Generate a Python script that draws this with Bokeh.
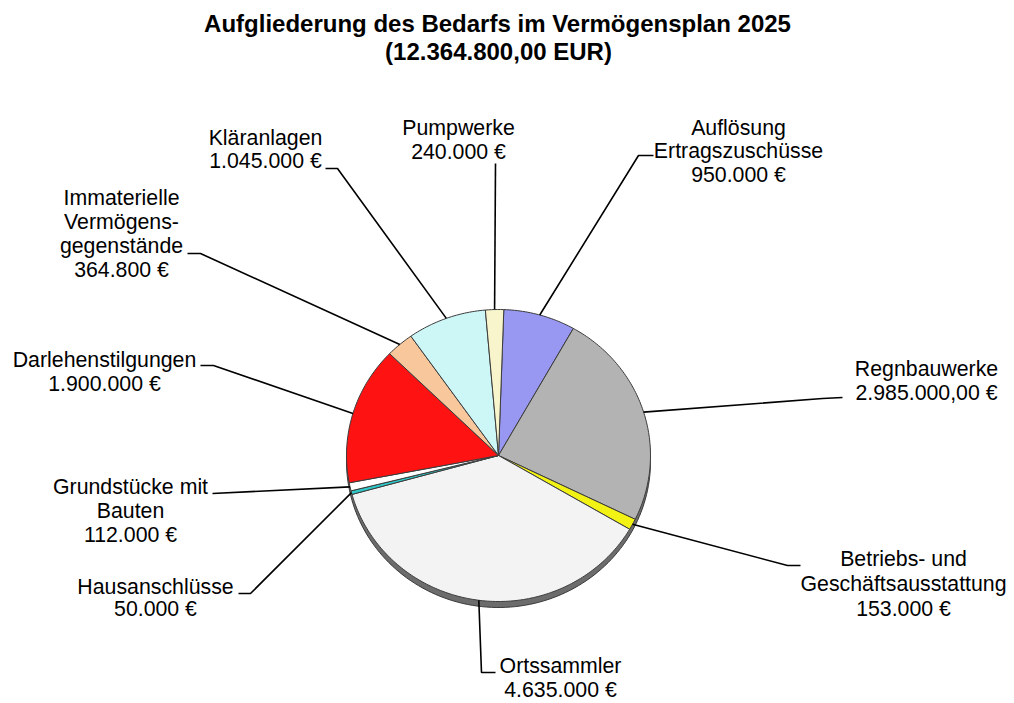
import numpy as np
from bokeh.plotting import figure
from bokeh.models import Range1d
from bokeh.embed import file_html
from bokeh.resources import INLINE
from bokeh.core.properties import value

# ---------------- data ----------------
categories = ["Auflösung Ertragszuschüsse", "Regnbauwerke",
              "Betriebs- und Geschäftsausstattung", "Ortssammler",
              "Hausanschlüsse", "Grundstücke mit Bauten", "Darlehenstilgungen",
              "Immaterielle Vermögensgegenstände", "Kläranlagen", "Pumpwerke"]
amounts = [950000, 2985000, 153000, 4635000, 50000, 112000, 1900000,
           364800, 1045000, 240000]
label_lines = [["Auflösung", "Ertragszuschüsse"], ["Regnbauwerke"],
               ["Betriebs- und", "Geschäftsausstattung"], ["Ortssammler"],
               ["Hausanschlüsse"], ["Grundstücke mit", "Bauten"],
               ["Darlehenstilgungen"], ["Immaterielle", "Vermögens-", "gegenstände"],
               ["Kläranlagen"], ["Pumpwerke"]]
amount_labels = ["950.000 €", "2.985.000,00 €", "153.000 €", "4.635.000 €",
                 "50.000 €", "112.000 €", "1.900.000 €", "364.800 €",
                 "1.045.000 €", "240.000 €"]
title_lines = ["Aufgliederung des Bedarfs im Vermögensplan 2025",
               "(12.364.800,00 EUR)"]

# ---------------- styles / layout ----------------
colors = ["#9898F2", "#B3B3B3", "#F2F214", "#F3F3F3", "#2EC8C8",
          "#FFFFFF", "#FF1212", "#F8C79C", "#CDF6F7", "#F8F5CC"]

W, H = 1014, 703
def px(x):
    return x
def py(y):
    return H - y

# label layout in page pixels: (center x, first line y, line spacing, leader points)
layout = [
    (738, 127, 23.5, [(653, 155), (638, 155)]),
    (926, 368, 24.0, [(842, 397), (822, 398)]),
    (903, 558, 25.0, [(800, 565), (787, 565)]),
    (560, 665, 24.0, [(495, 672), (481, 672)]),
    (155, 586, 22.0, [(238, 593), (250, 593)]),
    (130, 486, 24.0, [(212, 493)]),
    (104, 359, 24.0, [(200, 365), (213, 365)]),
    (121, 197, 24.3, [(187, 253), (200, 253)]),
    (265, 137, 23.5, [(325, 168), (337, 168)]),
    (458, 127, 24.5, [(495, 163)]),
]

pie_cx, pie_cy = px(498), py(455)
rx, ry = 152, 146
start_offset = np.deg2rad(2.0)

p = figure(width=W, height=H, x_range=Range1d(0, W), y_range=Range1d(0, H),
           output_backend="svg", toolbar_location=None, min_border=0,
           x_axis_type=None, y_axis_type=None)
p.grid.visible = False
p.outline_line_color = None
p.background_fill_color = "white"

vals = np.array(amounts, dtype=float)
frac = np.concatenate([[0.0], np.cumsum(vals)]) / vals.sum()
angles = frac * 2 * np.pi + start_offset

# shadow
t = np.linspace(0, 2 * np.pi, 200)
p.patch(pie_cx + rx * np.sin(t), pie_cy - 6 + ry * np.cos(t),
        fill_color="#6c6c6c", line_color="#3a3a3a", line_width=1)

xs, ys = [], []
for a0, a1 in zip(angles[:-1], angles[1:]):
    tt = np.linspace(a0, a1, max(3, int((a1 - a0) * 60)))
    xs.append(np.concatenate([[pie_cx], pie_cx + rx * np.sin(tt)]))
    ys.append(np.concatenate([[pie_cy], pie_cy + ry * np.cos(tt)]))
p.patches(xs, ys, fill_color=colors, line_color="#3c3c3c", line_width=1)

# leader lines
mids = (angles[:-1] + angles[1:]) / 2
lx, ly = [], []
for m, (cx, y0, sp, pts) in zip(mids, layout):
    xx = [px(a) for a, b in pts] + [pie_cx + rx * np.sin(m)]
    yy = [py(b) for a, b in pts] + [pie_cy + ry * np.cos(m)]
    lx.append(xx)
    ly.append(yy)
p.multi_line(lx, ly, line_color="black", line_width=1.6)

# labels
tx, ty, tt_ = [], [], []
for lines, amt, (cx, y0, sp, pts) in zip(label_lines, amount_labels, layout):
    for i, s in enumerate(lines + [amt]):
        tx.append(px(cx))
        ty.append(py(y0 + i * sp))
        tt_.append(s)
p.text(x=tx, y=ty, text=tt_, text_font=value("Liberation Sans"),
       text_font_size="21.3px", text_align="center", text_baseline="middle",
       text_color="black")

# title
p.text(x=[px(497), px(498)], y=[py(23), py(51)], text=title_lines,
       text_font=value("Liberation Sans"), text_font_size="24px",
       text_font_style="bold", text_align="center", text_baseline="middle",
       text_color="black")

open("out.html", "w").write(file_html(p, INLINE))
